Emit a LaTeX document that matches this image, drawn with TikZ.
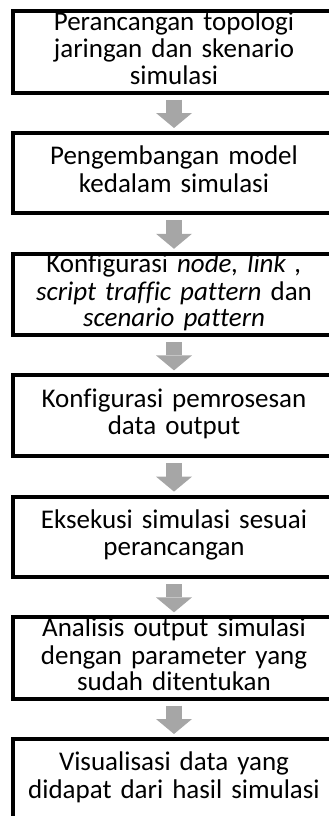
\documentclass[tikz,border=0pt]{standalone}
\usepackage{fontspec}
\setmainfont{Carlito}[Ligatures=NoCommon]
\usetikzlibrary{arrows.meta}
\definecolor{arrowgray}{HTML}{A6A6A6}
\begin{document}
\begin{tikzpicture}[x=1bp, y=-1bp,
  stepbox/.style={inner sep=0pt, minimum width=322bp, minimum height=80bp,
    text width=320bp, align=center,
    font=\fontsize{27bp}{26.5bp}\selectfont},
  frame/.style={draw=black, line width=4bp},
  flow/.style={draw=arrowgray, line width=16bp, shorten <=7bp, shorten >=5bp,
    -{Triangle[width=36bp, length=15bp, line width=0pt]}}]
\useasboundingbox (0,0) rectangle (328,816);

% process steps, top to bottom
\node[stepbox] (s1) at (174,52.0)  {\strut Perancangan topologi\\ jaringan dan skenario\\ simulasi\strut};
\node[stepbox] (s2) at (174,173.2) {\strut Pengembangan model\\ kedalam simulasi\strut};
\node[stepbox] (s3) at (174,294.4) {\strut Konfigurasi \textit{node, link ,}\\ \textit{script traffic pattern} dan\\ \textit{scenario pattern}\strut};
\node[stepbox] (s4) at (174,415.6) {\strut Konfigurasi pemrosesan\\ data output\strut};
\node[stepbox] (s5) at (174,536.8) {\strut Eksekusi simulasi sesuai\\ perancangan\strut};
\node[stepbox] (s6) at (174,658.0) {\strut Analisis output simulasi\\ dengan parameter yang\\ sudah ditentukan\strut};
\node[stepbox] (s7) at (174,779.2) {\strut Visualisasi data yang\\ didapat dari hasil simulasi\strut};

% frames drawn over the text
\foreach \n in {s1,s2,s3,s4,s5,s6,s7}
  \draw[frame] (\n.north west) rectangle (\n.south east);

% block arrows between consecutive steps
\draw[flow] (s1.south) -- (s2.north);
\draw[flow] (s2.south) -- (s3.north);
\draw[flow] (s3.south) -- (s4.north);
\draw[flow] (s4.south) -- (s5.north);
\draw[flow] (s5.south) -- (s6.north);
\draw[flow] (s6.south) -- (s7.north);
\end{tikzpicture}
\end{document}
